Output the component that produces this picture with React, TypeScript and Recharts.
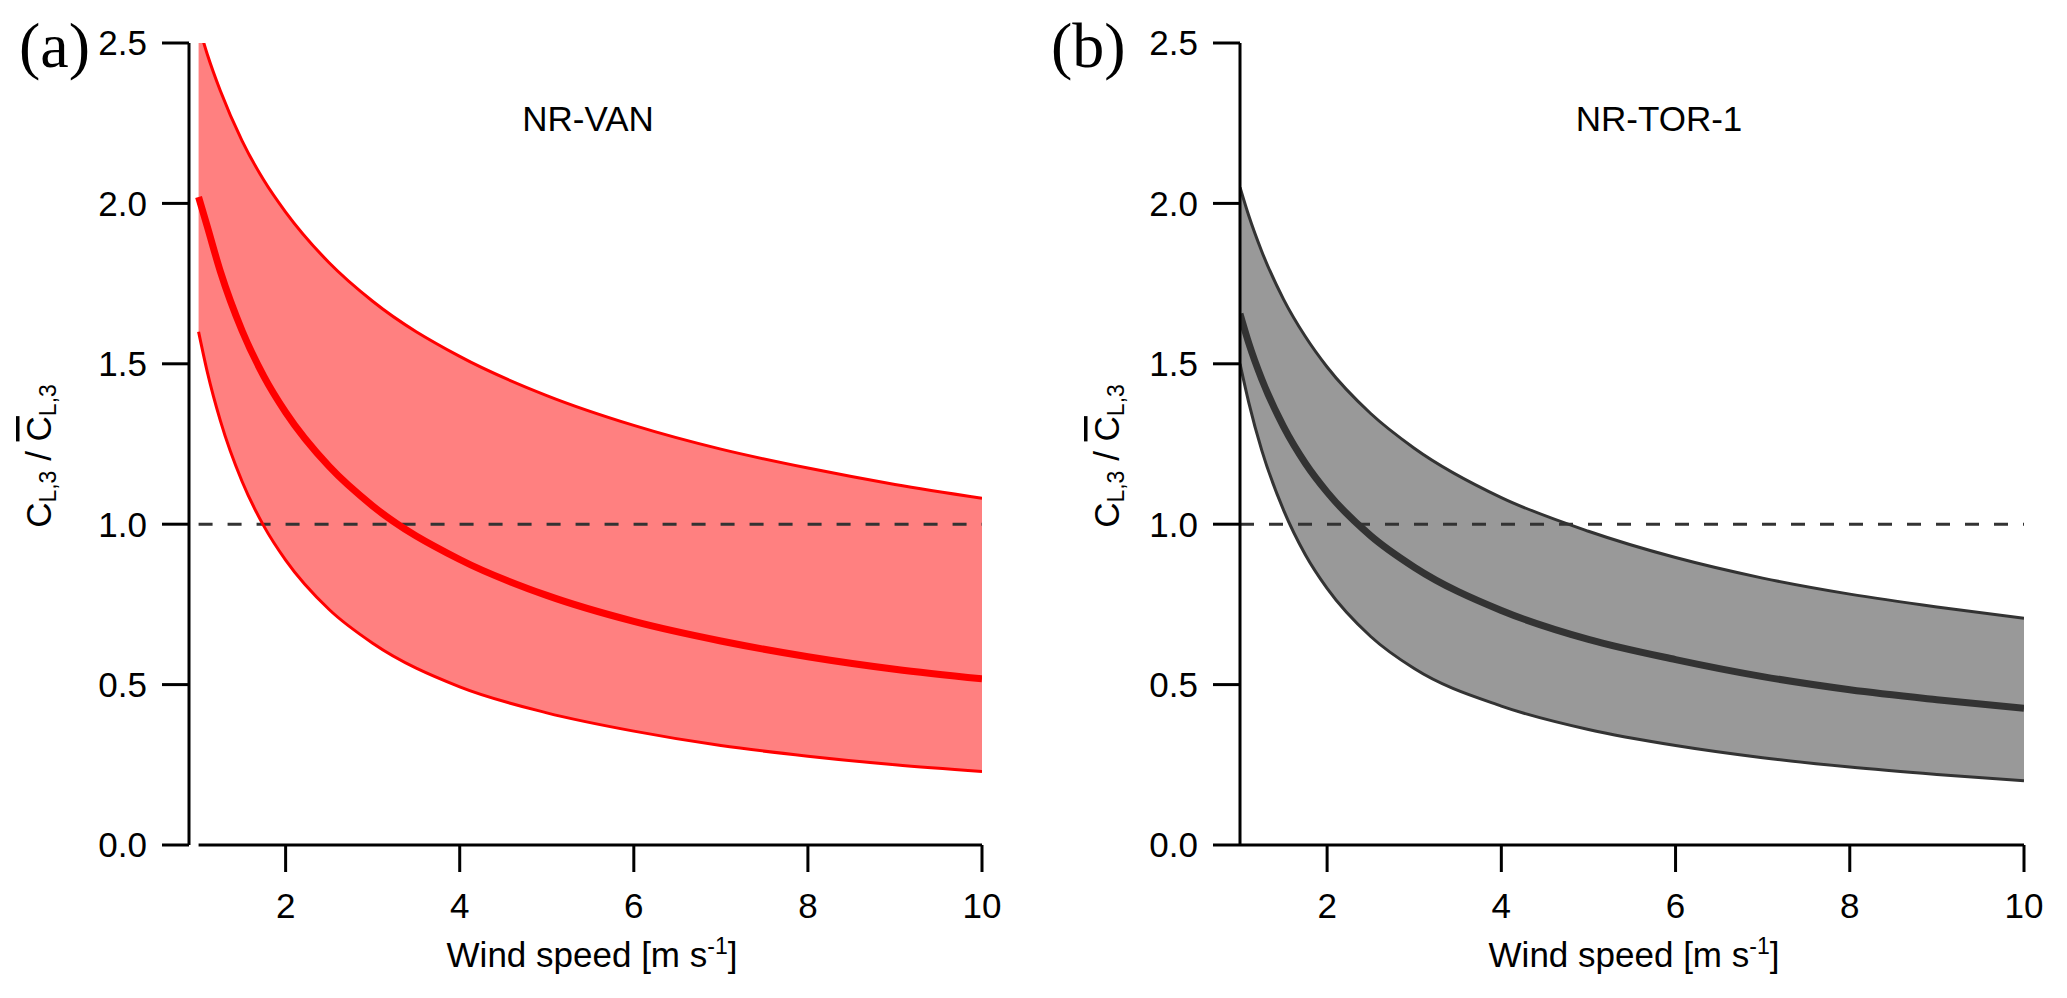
import { ComposedChart, Area, Line, XAxis, YAxis, ReferenceLine, Customized } from "recharts";

const WIND_SPEED = [1, 1.1, 1.25, 1.5, 1.75, 2, 2.5, 3, 4, 5, 6, 7, 8, 9, 10];

const VAN_UPPER = [2.555, 2.465, 2.351, 2.195, 2.072, 1.973, 1.815, 1.695, 1.523, 1.401, 1.308, 1.234, 1.175, 1.124, 1.081];
const VAN_MEAN = [2.02, 1.928, 1.788, 1.603, 1.461, 1.349, 1.18, 1.057, 0.89, 0.778, 0.697, 0.636, 0.587, 0.548, 0.518];
const VAN_LOWER = [1.6, 1.475, 1.323, 1.133, 0.994, 0.888, 0.734, 0.629, 0.493, 0.412, 0.355, 0.31, 0.277, 0.25, 0.229];

const TOR_UPPER = [2.05, 1.962, 1.85, 1.701, 1.585, 1.49, 1.345, 1.237, 1.083, 0.978, 0.896, 0.832, 0.782, 0.742, 0.707];
const TOR_MEAN = [1.656, 1.565, 1.452, 1.304, 1.19, 1.1, 0.964, 0.866, 0.731, 0.641, 0.578, 0.525, 0.484, 0.453, 0.426];
const TOR_LOWER = [1.5, 1.38, 1.23, 1.044, 0.905, 0.8, 0.65, 0.55, 0.433, 0.36, 0.31, 0.272, 0.243, 0.22, 0.2];

const X_TICKS = [2, 4, 6, 8, 10];
const Y_TICKS = [0, 0.5, 1, 1.5, 2, 2.5];

const SANS = "'Liberation Sans', Arial, sans-serif";
const SERIF = "'Liberation Serif', 'Times New Roman', serif";

function buildRows(upper: number[], mean: number[], lower: number[]) {
  return WIND_SPEED.map((x, i) => ({
    x,
    band: [lower[i], upper[i]],
    upper: upper[i],
    mean: mean[i],
    lower: lower[i],
  }));
}

type PanelProps = {
  left: number;
  width: number;
  yAxisWidth: number;
  marginRight: number;
  xMin: number;
  rows: ReturnType<typeof buildRows>;
  fill: string;
  stroke: string;
  title: string;
  titleX: number;
  tag: string;
  tagX: number;
  yLabelX: number;
  xLabelX: number;
};

function Panel(p: PanelProps) {
  const overlay = () => (
    <g>
      <text x={p.tagX} y={67} fontFamily={SERIF} fontSize={64} fill="#000">
        {p.tag}
      </text>
      <text x={p.titleX} y={131} textAnchor="middle" fontFamily={SANS} fontSize={35} fill="#000">
        {p.title}
      </text>
      <text x={p.xLabelX} y={967} textAnchor="middle" fontFamily={SANS} fontSize={35} fill="#000">
        Wind speed [m s
        <tspan dy={-13} fontSize={23}>-1</tspan>
        <tspan dy={13}>]</tspan>
      </text>
      <text
        transform={`translate(${p.yLabelX}, 456) rotate(-90)`}
        textAnchor="middle"
        fontFamily={SANS}
        fontSize={35}
        fill="#000"
      >
        C<tspan dy={5} fontSize={23}>L,3</tspan>
        <tspan dy={-5}> / </tspan>
        <tspan style={{ textDecoration: "overline" }}>C</tspan>
        <tspan dy={5} fontSize={23}>L,3</tspan>
      </text>
    </g>
  );

  return (
    <div style={{ position: "absolute", left: p.left, top: 0 }}>
      <ComposedChart
        width={p.width}
        height={998}
        data={p.rows}
        margin={{ top: 43, right: p.marginRight, bottom: 0, left: 0 }}
      >
        <XAxis
          dataKey="x"
          type="number"
          domain={[p.xMin, 10]}
          ticks={X_TICKS}
          allowDataOverflow
          height={153}
          axisLine={p.xMin === 1 ? { stroke: "#000", strokeWidth: 3 } : false}
          tickLine={{ stroke: "#000", strokeWidth: 3 }}
          tickSize={27}
          tickMargin={21}
          tick={{ fill: "#000", fontFamily: SANS, fontSize: 35 }}
        />
        <YAxis
          type="number"
          domain={[0, 2.5]}
          ticks={Y_TICKS}
          allowDataOverflow
          width={p.yAxisWidth}
          axisLine={{ stroke: "#000", strokeWidth: 3 }}
          tickLine={{ stroke: "#000", strokeWidth: 3 }}
          tickSize={27}
          tickMargin={15}
          tickFormatter={(v: number) => v.toFixed(1)}
          tick={{ fill: "#000", fontFamily: SANS, fontSize: 35 }}
        />
        <Area
          dataKey="band"
          type="monotone"
          fill={p.fill}
          fillOpacity={1}
          stroke="none"
          isAnimationActive={false}
        />
        <ReferenceLine
          segment={[{ x: 1, y: 1 }, { x: 10, y: 1 }]}
          stroke="#333"
          strokeWidth={3}
          strokeDasharray="14 15"
        />
        {p.xMin !== 1 && (
          <ReferenceLine
            segment={[{ x: 1, y: 0 }, { x: 10, y: 0 }]}
            stroke="#000"
            strokeWidth={3}
            ifOverflow="visible"
          />
        )}
        <Line dataKey="upper" type="monotone" stroke={p.stroke} strokeWidth={3} dot={false} isAnimationActive={false} />
        <Line dataKey="lower" type="monotone" stroke={p.stroke} strokeWidth={3} dot={false} isAnimationActive={false} />
        <Line dataKey="mean" type="monotone" stroke={p.stroke} strokeWidth={7} dot={false} isAnimationActive={false} />
        <Customized component={overlay} />
      </ComposedChart>
    </div>
  );
}

export default function App() {
  return (
    <div style={{ position: "absolute", left: 0, top: 0, width: 2067, height: 998, background: "#fff" }}>
      <Panel
        left={0}
        width={1030}
        yAxisWidth={189}
        marginRight={48}
        xMin={0.89}
        rows={buildRows(VAN_UPPER, VAN_MEAN, VAN_LOWER)}
        fill="#ff8080"
        stroke="#ff0000"
        title="NR-VAN"
        titleX={588}
        tag="(a)"
        tagX={19}
        yLabelX={51}
        xLabelX={592}
      />
      <Panel
        left={1030}
        width={1037}
        yAxisWidth={210}
        marginRight={43}
        xMin={1}
        rows={buildRows(TOR_UPPER, TOR_MEAN, TOR_LOWER)}
        fill="#999999"
        stroke="#333333"
        title="NR-TOR-1"
        titleX={629}
        tag="(b)"
        tagX={21}
        yLabelX={89}
        xLabelX={604}
      />
    </div>
  );
}
